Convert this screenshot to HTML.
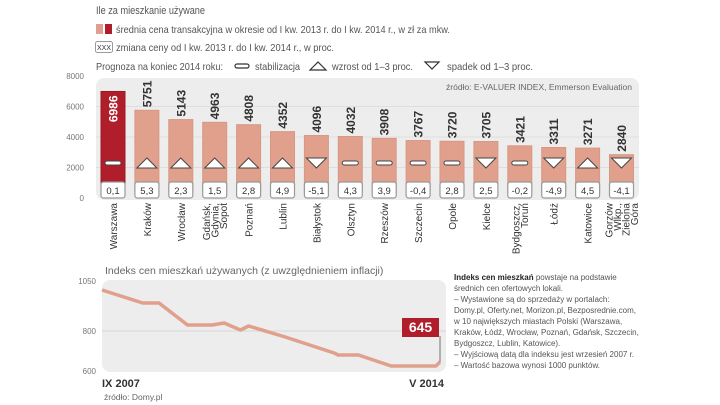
<!DOCTYPE html>
<html><head><meta charset="utf-8"><style>
body{margin:0;background:#fff;width:720px;height:405px;overflow:hidden;font-family:"Liberation Sans",sans-serif;}
svg{display:block}
</style></head><body>
<svg width="720" height="405" viewBox="0 0 720 405" xmlns="http://www.w3.org/2000/svg" font-family="Liberation Sans, sans-serif">
<text x="96" y="14" font-size="11" fill="#555" textLength="109" lengthAdjust="spacingAndGlyphs">Ile za mieszkanie używane</text>
<g>
<rect x="96" y="24" width="7" height="10" fill="#e0a090"/><rect x="105" y="24" width="7" height="10" fill="#b01e2c"/>
<text x="116" y="33" font-size="10.5" fill="#555" textLength="334" lengthAdjust="spacingAndGlyphs">średnia cena transakcyjna w okresie od I kw. 2013 r. do I kw. 2014 r., w zł za mkw.</text></g>
<g>
<rect x="95.5" y="41.5" width="17" height="11" rx="2" fill="#fff" stroke="#999"/><text x="104" y="50" font-size="7" text-anchor="middle" fill="#333">XXX</text>
<text x="116" y="51" font-size="10.5" fill="#555" textLength="218" lengthAdjust="spacingAndGlyphs">zmiana ceny od I kw. 2013 r. do I kw. 2014 r., w proc.</text></g>
<g>
<text x="96" y="70" font-size="10.5" fill="#555" textLength="127" lengthAdjust="spacingAndGlyphs">Prognoza na koniec 2014 roku:</text>
<rect x="235" y="64" width="14" height="4" rx="2" fill="#fff" stroke="#333" stroke-width="1.2"/>
<text x="255" y="70" font-size="10.5" fill="#555" textLength="45" lengthAdjust="spacingAndGlyphs">stabilizacja</text>
<path d="M310,70 L318,62 L326,70 Z" fill="#fff" stroke="#333" stroke-width="1.2"/>
<text x="332" y="70" font-size="10.5" fill="#555" textLength="81" lengthAdjust="spacingAndGlyphs">wzrost od 1–3 proc.</text>
<path d="M425,62 L439,62 L432,69 Z" fill="#fff" stroke="#333" stroke-width="1.2"/>
<text x="447" y="70" font-size="10.5" fill="#555" textLength="86" lengthAdjust="spacingAndGlyphs">spadek od 1–3 proc.</text></g>
<rect x="96" y="78" width="543" height="122" rx="8" fill="#ededed"/>
<text x="632" y="90" font-size="8.5" text-anchor="end" fill="#666">źródło:  E-VALUER INDEX, Emmerson Evaluation</text>
<g id="bars"></g>
<rect x="102" y="280" width="344" height="92" rx="8" fill="#ededed"/>
<text x="105" y="274" font-size="10.5" fill="#666">Indeks cen mieszkań używanych (z uwzględnieniem inflacji)</text>
<g id="line"></g>
<text x="102" y="387" font-size="11" font-weight="bold" fill="#333">IX 2007</text>
<text x="444" y="387" font-size="11" font-weight="bold" fill="#333" text-anchor="end">V 2014</text>
<text x="104" y="400" font-size="8.5" fill="#666">źródło: Domy.pl</text>
<g font-size="8" fill="#555">
<text x="454" y="280"><tspan font-weight="bold" fill="#222">Indeks cen mieszkań</tspan> powstaje na podstawie</text>
<text x="454" y="291">średnich cen ofertowych lokali.</text>
<text x="454" y="302">– Wystawione są do sprzedaży w portalach:</text>
<text x="454" y="313">Domy.pl, Oferty.net, Morizon.pl, Bezposrednie.com,</text>
<text x="454" y="324">w 10 największych miastach Polski (Warszawa,</text>
<text x="454" y="335">Kraków, Łódź, Wrocław, Poznań, Gdańsk, Szczecin,</text>
<text x="454" y="346">Bydgoszcz, Lublin, Katowice).</text>
<text x="454" y="357">– Wyjściową datą dla indeksu jest wrzesień 2007 r.</text>
<text x="454" y="368">– Wartość bazowa wynosi 1000 punktów.</text></g>
</svg>
<script>
const cities=["Warszawa","Kraków","Wrocław","Gdańsk,|Gdynia,|Sopot","Poznań","Lublin","Białystok","Olsztyn","Rzeszów","Szczecin","Opole","Kielce","Bydgoszcz,|Toruń","Łódź","Katowice","Gorzów|Wlkp.,|Zielona|Góra"];
const prices=[6986,5751,5143,4963,4808,4352,4096,4032,3908,3767,3720,3705,3421,3311,3271,2840];
const changes=["0,1","5,3","2,3","1,5","2,8","4,9","-5,1","4,3","3,9","-0,4","2,8","2,5","-0,2","-4,9","4,5","-4,1"];
const forecasts=["s","u","u","u","u","u","d","s","s","s","s","d","s","d","u","d"];
const yTicks=[0,2000,4000,6000,8000];
const lineMonths=[0,10,14,21,27,30,34,36,45,57,58,63,71,82,83];
const lineValues=[1005,940,940,830,830,840,805,825,770,690,680,680,625,625,645];
const lineTicks=[600,800,1050];

const NS="http://www.w3.org/2000/svg";
function mk(t,a,p){const e=document.createElementNS(NS,t);for(const k in a)e.setAttribute(k,a[k]);p.appendChild(e);return e;}
const yB=v=>198-v*0.01525;
const xB=i=>113+i*33.9;
const g=document.getElementById('bars');
yTicks.forEach(t=>{
  if(t>0&&t<8000){const l=mk('line',{x1:96,x2:639,y1:yB(t),y2:yB(t),stroke:'#d8d8d8','stroke-width':0.8},g);
  
  }
  const tx=mk('text',{x:84,y:yB(t)+3,'font-size':8,'text-anchor':'end',fill:'#777'},g);tx.textContent=t;
  
  
});
prices.forEach((p,i)=>{
  const cx=xB(i),w=24,top=yB(p);
  const r=mk('rect',{x:cx-w/2,y:top,width:w,height:190-top,fill:i==0?'#b01e2c':'#e0a08c',stroke:i==0?'#9a1a26':'#d69884','stroke-width':1},g);
  
  
  const v=mk('text',{transform:`translate(${cx+4.5},${i==0?top+4:top-3}) rotate(-90)`,'font-size':12,'font-weight':'bold','text-anchor':i==0?'end':'start',fill:i==0?'#fff':'#333'},g);
  v.textContent=p;
  
  
  const b=mk('rect',{x:cx-12,y:182,width:24,height:16,rx:2.5,fill:'#fff',stroke:'#999','stroke-width':1.2},g);
  
  
  const c=mk('text',{x:cx,y:194,'font-size':9.5,'text-anchor':'middle',fill:'#333'},g);c.textContent=changes[i];
  
  
  const f=forecasts[i];let s;
  if(f=='s')s=mk('rect',{x:cx-8,y:161,width:16,height:4,rx:2,fill:'#fff',stroke:'#444','stroke-width':1},g);
  else if(f=='u')s=mk('path',{d:`M${cx-10},168 L${cx},158 L${cx+10},168 Z`,fill:'#fff',stroke:'#444','stroke-width':1},g);
  else s=mk('path',{d:`M${cx-10},158 L${cx+10},158 L${cx},168 Z`,fill:'#fff',stroke:'#444','stroke-width':1},g);
  
  
  const parts=cities[i].split('|');
  const n=parts.length;
  parts.forEach((pt,j)=>{
    const t=mk('text',{transform:`translate(${cx+4-(n-1-j)*8.5+(n-1)*4.2},203) rotate(-90)`,'font-size':10,'text-anchor':'end',fill:'#333'},g);
    t.textContent=pt;
    
    
  });
});
const L=document.getElementById('line');
const xL=m=>102+m*(338/83);
const yL=v=>371-(v-600)*0.2;
lineTicks.forEach(t=>{
  if(t==800){const gl=mk('line',{x1:102,x2:446,y1:yL(t),y2:yL(t),stroke:'#cfcfcf','stroke-width':0.8},L);
  
  }
  const tx=mk('text',{x:96,y:yL(t)+3,'font-size':8,'text-anchor':'end',fill:'#777'},L);tx.textContent=t;
  
  
});
const pl=mk('polyline',{points:lineMonths.map((m,i)=>xL(m)+','+yL(lineValues[i])).join(' '),fill:'none',stroke:'#e0a08c','stroke-width':3.5,'stroke-linejoin':'round'},L);


const last=lineMonths.length-1;
const lx=xL(lineMonths[last]),ly=yL(lineValues[last]);
const ln=mk('line',{x1:lx,x2:lx,y1:336,y2:ly,stroke:'#555','stroke-width':0.8},L);


const cb=mk('rect',{x:lx-38,y:318,width:37,height:19,fill:'#b01e2c'},L);


const ct=mk('text',{x:lx-19.5,y:332,'font-size':14,'font-weight':'bold','text-anchor':'middle',fill:'#fff'},L);ct.textContent=lineValues[last];


</script>
</body></html>
